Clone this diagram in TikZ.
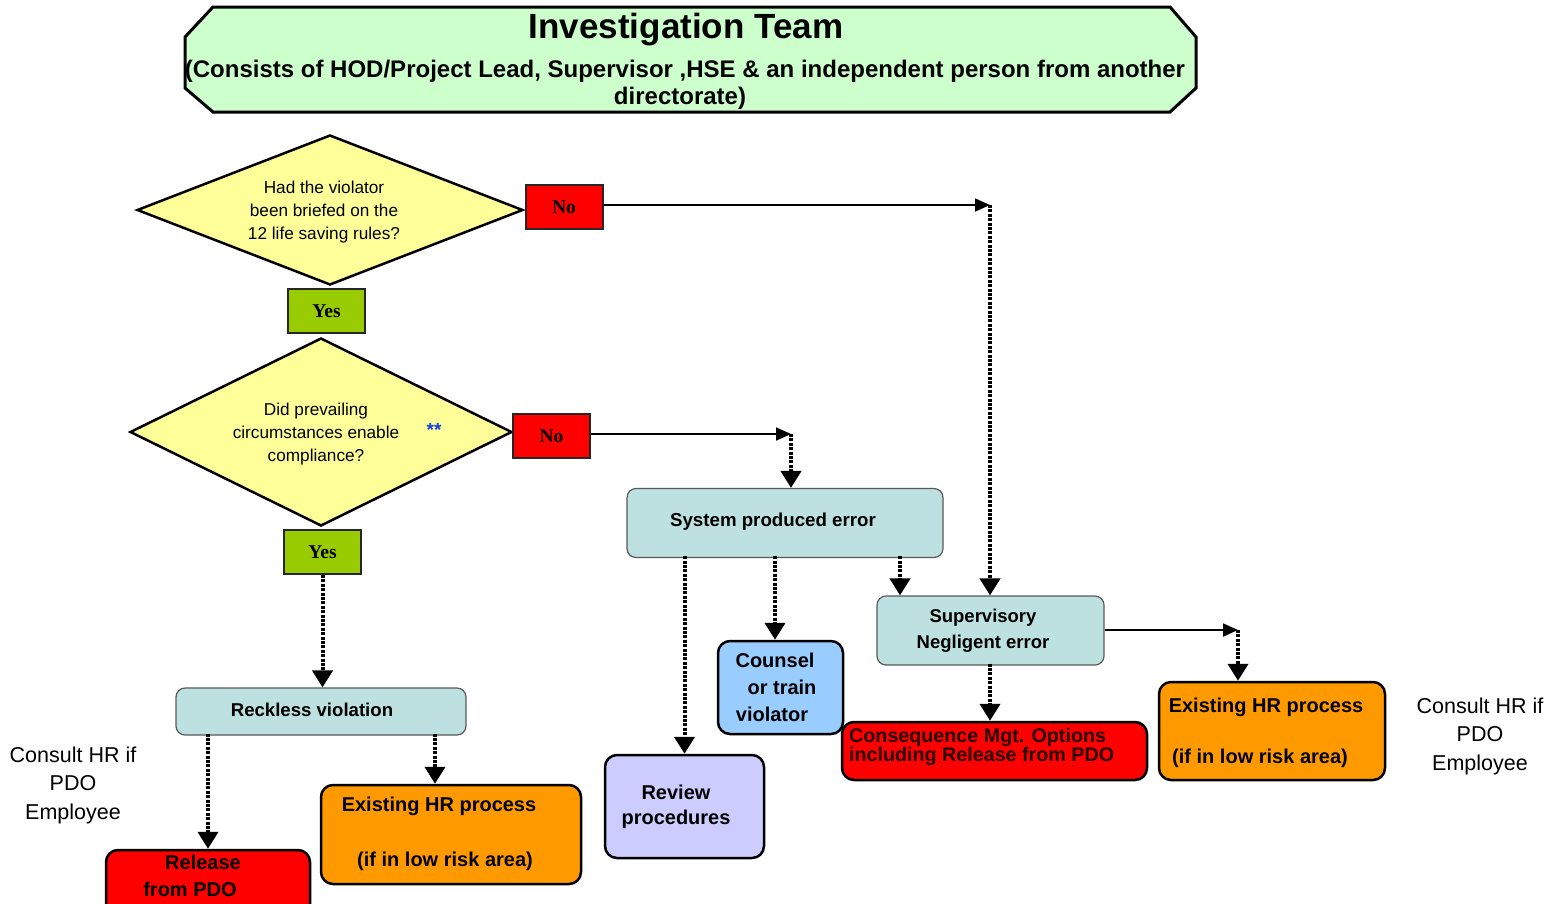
\documentclass[tikz,border=0pt]{standalone}
\usepackage{fontspec}
\setmainfont{Liberation Sans}
\newfontfamily\tnr{Liberation Serif}
\usetikzlibrary{shapes.geometric,arrows.meta}
\definecolor{bannerg}{RGB}{204,255,204}
\definecolor{dyellow}{RGB}{255,255,153}
\definecolor{yesg}{RGB}{153,204,0}
\definecolor{nored}{RGB}{255,0,0}
\definecolor{boxteal}{RGB}{189,224,224}
\definecolor{hrorange}{RGB}{255,153,0}
\definecolor{cblue}{RGB}{153,204,255}
\definecolor{lav}{RGB}{204,204,255}
\definecolor{starblue}{RGB}{20,60,230}
\newcommand{\fs}[2]{\fontsize{#1}{#2}\selectfont}
\tikzset{
  yesno/.style={draw=black!85, line width=2pt, minimum width=77, minimum height=44, inner sep=0, font=\tnr\bfseries\fs{19.5}{22}},
  dia/.style={diamond, draw=black, line width=2.5pt, fill=dyellow, inner sep=0},
  tealbox/.style={draw=black!65, line width=1.2pt, fill=boxteal, rounded corners=9, inner sep=0, align=center},
  boldbox/.style={draw=black, line width=2.5pt, rounded corners=12, inner sep=0},
  txt/.style={inner sep=0, font=\bfseries\fs{20}{24}},
  plain/.style={inner sep=0, font=\fs{21.5}{28.5}, align=center},
  solidarrow/.style={line width=1.8pt, -{Triangle[length=15pt,width=13pt]}},
  dotline/.style={line width=4pt, dash pattern=on 3pt off 1.4pt},
  dotarrow/.style={dotline, -{Triangle[length=17pt,width=20pt]}}
}
\begin{document}
\begin{tikzpicture}[x=1pt,y=-1pt]
\useasboundingbox (0,0) rectangle (1554,903);
\clip (0,0) rectangle (1554,903);
% banner
\draw[line width=3pt, fill=bannerg, line join=miter]
  (213,7) -- (1170,7) -- (1196,37) -- (1196,88) -- (1170,112) -- (213,112) -- (185,88) -- (185,37) -- cycle;
\node[inner sep=0, font=\bfseries\fs{35}{40}] (title) at (686,30) {Investigation Team};
\node[inner sep=0, font=\bfseries\fs{24}{28}] (sub1) at (685,71) {(Consists of HOD/Project Lead, Supervisor ,HSE \& an independent person from another};
\node[inner sep=0, font=\bfseries\fs{24}{28}] (sub2) at (680,98) {directorate)};
% diamonds
\node[dia, minimum width=386, minimum height=150] (d1) at (330,210) {};
\node[inner sep=0, font=\fs{17.2}{23}, align=center] (d1t) at (324,212) {Had the violator\\been briefed on the\\12 life saving rules?};
\node[dia, minimum width=382, minimum height=188] (d2) at (321,432) {};
\node[inner sep=0, font=\fs{17.2}{23}, align=center] (d2t) at (316,434) {Did prevailing\\circumstances enable\\compliance?};
\node[inner sep=0, font=\bfseries\fs{19}{20}, text=starblue] (stars) at (434,430) {**};
% yes / no
\node[yesno, fill=nored] (no1) at (564,207) {No};
\node[yesno, fill=yesg] (yes1) at (326.5,311) {Yes};
\node[yesno, fill=nored] (no2) at (551.5,436) {No};
\node[yesno, fill=yesg] (yes2) at (322.5,552) {Yes};
% boxes
\node[tealbox, minimum width=316, minimum height=69] (sys) at (785,523) {};
\node[txt, font=\bfseries\fs{18.7}{22}] (syst) at (773,522) {System produced error};
\node[tealbox, minimum width=227, minimum height=69] (sup) at (990.5,630.5) {};
\node[inner sep=0, font=\bfseries\fs{18.5}{26}, align=center] (supt) at (983,631) {Supervisory\\Negligent error};
\node[tealbox, minimum width=290, minimum height=47] (rec) at (321,711.5) {};
\node[txt, font=\bfseries\fs{18.6}{22}] (rect) at (312,710) {Reckless violation};
\node[boldbox, fill=cblue, minimum width=125, minimum height=93] (cou) at (780.5,687.5) {};
\node[txt] (cou1) at (775,660) {Counsel};
\node[txt] (cou2) at (782,687) {or train};
\node[txt] (cou3) at (772,714) {violator};
\node[boldbox, fill=lav, minimum width=159, minimum height=103] (rev) at (684.5,806.5) {};
\node[txt] (rev1) at (676,792) {Review};
\node[txt] (rev2) at (676,819) {procedures};
\node[boldbox, fill=nored, minimum width=305, minimum height=58] (con) at (994.5,751) {};
\node[inner sep=0, font=\bfseries\fs{19.7}{19}, text=black!85!red, align=left, anchor=west] (cont) at (849,747) {Consequence Mgt. Options\\including Release from PDO};
\node[boldbox, fill=hrorange, minimum width=226, minimum height=98] (hr2) at (1272,731) {};
\node[txt] (hr2a) at (1266,707) {Existing HR process};
\node[txt] (hr2b) at (1260,758) {(if in low risk area)};
\node[boldbox, fill=hrorange, minimum width=260, minimum height=99] (hr1) at (451,834.5) {};
\node[txt] (hr1a) at (439,806) {Existing HR process};
\node[txt] (hr1b) at (445,861) {(if in low risk area)};
\node[boldbox, fill=nored, minimum width=204, minimum height=70] (rel) at (208,885) {};
\node[txt] (rel1) at (203,862) {Release};
\node[txt] (rel2) at (190,889) {from PDO};
% side notes
\node[plain] (cl) at (73,785) {Consult HR if\\PDO\\Employee};
\node[plain] (cr) at (1480,736) {Consult HR if\\PDO\\Employee};
% connectors
\coordinate (c1) at (990,205);
\coordinate (c2) at (791,434);
\coordinate (c3) at (1238,630);
\draw[solidarrow] (no1.east |- c1) -- (c1);
\draw[dotarrow] (c1) -- (c1 |- sup.north);
\draw[solidarrow] (no2.east |- c2) -- (c2);
\draw[dotarrow] (c2) -- (c2 |- sys.north);
\draw[solidarrow] (sup.east |- c3) -- (c3);
\draw[dotarrow] (c3) -- (c3 |- hr2.north);
\draw[dotarrow] ([yshift=2pt]sys.south -| rev.north) -- (rev.north);
\draw[dotarrow] ([yshift=2pt]sys.south -| 775,0) -- (775,0 |- cou.north);
\draw[dotarrow] ([yshift=2pt]sys.south -| 900,0) -- (900,0 |- sup.north);
\draw[dotarrow] ([yshift=2pt]sup.south -| c1) -- (c1 |- con.north);
\draw[dotarrow] (yes2.south) -- (yes2.south |- rec.north);
\draw[dotarrow] ([yshift=2pt]rec.south -| rel.north) -- (rel.north);
\draw[dotarrow] ([yshift=2pt]rec.south -| 435,0) -- (435,0 |- hr1.north);
\end{tikzpicture}
\end{document}
